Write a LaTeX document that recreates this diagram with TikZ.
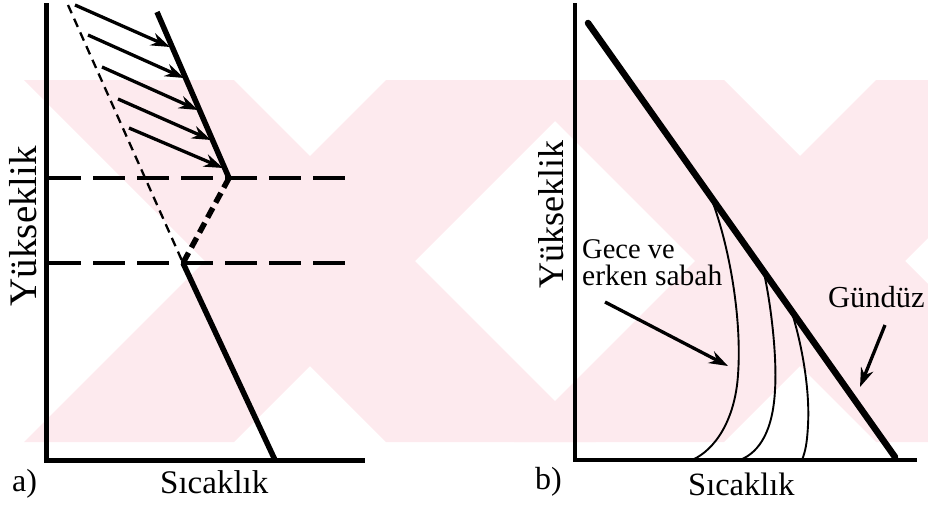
\documentclass[tikz,border=0pt]{standalone}
\usepackage{fontspec}
\setmainfont{Liberation Serif}
\usetikzlibrary{arrows.meta}
\definecolor{wm}{RGB}{253,234,238}
\tikzset{
  axis/.style={line width=5pt, line cap=rect},
  thickline/.style={line width=5.5pt},
  dashline/.style={line width=3.2pt, dash pattern=on 32pt off 12pt},
  thindash/.style={line width=2.3pt, dash pattern=on 9pt off 6pt},
  heavydash/.style={line width=5.5pt, dash pattern=on 11pt off 6pt},
  arr/.style={line width=3.3pt, -{Stealth[length=19pt,width=13pt]}},
  curve/.style={line width=1.9pt},
  lbl/.style={inner sep=0pt, anchor=base west},
}
\newcommand{\wmX}[1]{%
  \fill[wm] (#1-181-105,80) -- (#1-181+105,80) -- (#1+181+105,442) -- (#1+181-105,442) -- cycle;
  \fill[wm] (#1+181-105,80) -- (#1+181+105,80) -- (#1-181+105,442) -- (#1-181-105,442) -- cycle;
}
\begin{document}
\begin{tikzpicture}[x=1pt,y=-1pt]
\useasboundingbox (0,0) rectangle (928,504);
% watermark
\begin{scope}
\clip (0,80) rectangle (928,442);
\wmX{310}
\wmX{800}
\end{scope}
% ---------- panel a ----------
\coordinate (aTop) at (46,5);
\coordinate (aO) at (46,460);
\coordinate (aRight) at (362,460);
\draw[axis] (aTop) -- (aO) -- (aRight);
\coordinate (u1) at (157,12);
\coordinate (u2) at (229,178);
\coordinate (l1) at (183,263);
\coordinate (l2) at (275,460);
\coordinate (d1) at (68,5);
\coordinate (h1a) at (49,178);
\coordinate (h1b) at (352,178);
\coordinate (h2a) at (49,263);
\coordinate (h2b) at (352,263);
\draw[dashline] (h1a) -- (h1b);
\draw[dashline] (h2a) -- (h2b);
\draw[thindash] (d1) -- (l1);
\draw[heavydash] (u2) -- (l1);
\draw[thickline] (u1) -- (u2);
\draw[thickline] (l1) -- (l2);
\draw[arr] (75,5) -- (170,47);
\draw[arr] (88,35) -- (184,78);
\draw[arr] (102,67) -- (198,110);
\draw[arr] (118,99) -- (211,140);
\draw[arr] (129,128) -- (223,168);
\node[rotate=90, inner sep=0pt] (ya) at (23,226) {\fontsize{39}{39}\selectfont Yükseklik};
\node[lbl] (xa) at (160,493) {\fontsize{33}{33}\selectfont Sıcaklık};
\node[lbl] (pa) at (12,491) {\fontsize{32}{32}\selectfont a)};
% ---------- panel b ----------
\coordinate (bTop) at (575,5);
\coordinate (bO) at (575,460);
\coordinate (bRight) at (915,460);
\draw[axis, line width=4.5pt] (bTop) -- (bO) -- (bRight);
\coordinate (g1) at (588,23);
\coordinate (g2) at (895,457);
\draw[line width=6.5pt, line cap=round] (g1) -- (g2);
\draw[curve] (713,203) .. controls (730,250) and (742,320) .. (738,375) .. controls (735,420) and (715,450) .. (692,460);
\draw[curve] (764,273) .. controls (772,310) and (777,360) .. (775,390) .. controls (773,430) and (760,452) .. (740,460);
\draw[curve] (792,313) .. controls (802,345) and (810,390) .. (808,425) .. controls (807,445) and (805,452) .. (802,460);
\node[rotate=90, inner sep=0pt] (yb) at (551,214) {\fontsize{36}{36}\selectfont Yükseklik};
\node[lbl] (xb) at (688,495) {\fontsize{32.5}{32.5}\selectfont Sıcaklık};
\node[lbl] (pb) at (535,489) {\fontsize{32}{32}\selectfont b)};
\node[lbl] (gece) at (582,258) {\fontsize{28.5}{28.5}\selectfont Gece ve};
\node[lbl] (erken) at (582,285) {\fontsize{29.5}{29.5}\selectfont erken sabah};
\node[lbl] (gunduz) at (828,307) {\fontsize{30.5}{30.5}\selectfont Gündüz};
\coordinate (ga) at (605,302);
\coordinate (gb) at (728,366);
\coordinate (da) at (885,325);
\coordinate (db) at (860,387);
\draw[arr] (ga) -- (gb);
\draw[arr] (da) -- (db);
\end{tikzpicture}
\end{document}
